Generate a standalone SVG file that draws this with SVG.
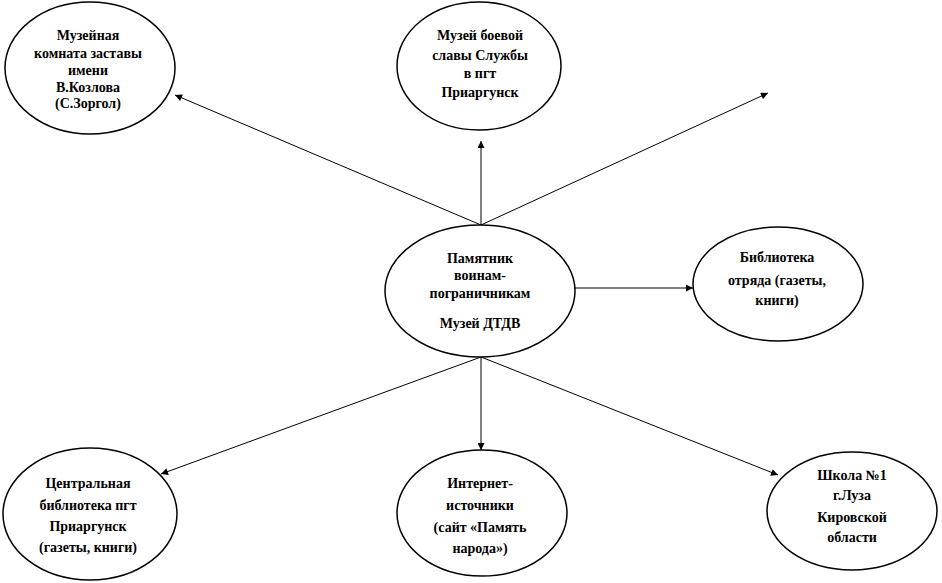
<svg xmlns="http://www.w3.org/2000/svg" width="942" height="583" viewBox="0 0 942 583">
<defs>
<style>
.node ellipse{fill:#fff;stroke:#000;stroke-width:1.5}
.node text{font-family:"Liberation Serif","Times New Roman",serif;font-weight:bold;font-size:14px;text-anchor:middle;fill:#000}
.edges line{stroke:#000;stroke-width:1}
</style>
<marker id="arr" viewBox="0 0 10 10" refX="10" refY="5" markerWidth="9" markerHeight="7" markerUnits="userSpaceOnUse" orient="auto">
<path d="M0,0 L10,5 L0,10 z" fill="#000"/>
</marker>
</defs>
<rect width="942" height="583" fill="#fff"/>
<g class="edges">
<line x1="481" y1="225" x2="175" y2="95" marker-end="url(#arr)"/>
<line x1="481" y1="225" x2="481" y2="141" marker-end="url(#arr)"/>
<line x1="481" y1="225" x2="768" y2="93" marker-end="url(#arr)"/>
<line x1="575" y1="288" x2="693" y2="288" marker-end="url(#arr)"/>
<line x1="481" y1="357" x2="161" y2="474" marker-end="url(#arr)"/>
<line x1="481" y1="357" x2="481" y2="450" marker-end="url(#arr)"/>
<line x1="481" y1="357" x2="778" y2="475" marker-end="url(#arr)"/>
</g>
<g id="n-center" class="node">
<ellipse cx="480" cy="291" rx="95" ry="66"/>
<text x="480" y="263">Памятник</text>
<text x="480" y="280">воинам-</text>
<text x="480" y="298">пограничникам</text>
<text x="480" y="328">Музей  ДТДВ</text>
</g>
<g id="n-museum-room" class="node">
<ellipse cx="90" cy="68" rx="85" ry="66"/>
<text x="88" y="40">Музейная</text>
<text x="88" y="58">комната заставы</text>
<text x="88" y="75">имени</text>
<text x="88" y="92">В.Козлова</text>
<text x="88" y="108">(С.Зоргол)</text>
</g>
<g id="n-museum-glory" class="node">
<ellipse cx="479" cy="66" rx="82" ry="64"/>
<text x="480" y="40">Музей боевой</text>
<text x="480" y="60">славы Службы</text>
<text x="480" y="78">в пгт</text>
<text x="480" y="97">Приаргунск</text>
</g>
<g id="n-library-unit" class="node">
<ellipse cx="778" cy="284" rx="85" ry="57"/>
<text x="777" y="262">Библиотека</text>
<text x="777" y="285">отряда (газеты,</text>
<text x="777" y="305">книги)</text>
</g>
<g id="n-central-library" class="node">
<ellipse cx="90" cy="514" rx="87" ry="66"/>
<text x="88" y="488">Центральная</text>
<text x="88" y="510">библиотека пгт</text>
<text x="88" y="531">Приаргунск</text>
<text x="88" y="552">(газеты, книги)</text>
</g>
<g id="n-internet" class="node">
<ellipse cx="482" cy="513" rx="85" ry="63"/>
<text x="480" y="488">Интернет-</text>
<text x="480" y="510">источники</text>
<text x="480" y="532">(сайт «Память</text>
<text x="480" y="553">народа»)</text>
</g>
<g id="n-school" class="node">
<ellipse cx="852" cy="511" rx="85" ry="59"/>
<text x="852" y="480">Школа №1</text>
<text x="852" y="500">г.Луза</text>
<text x="852" y="522">Кировской</text>
<text x="852" y="542">области</text>
</g>
</svg>
